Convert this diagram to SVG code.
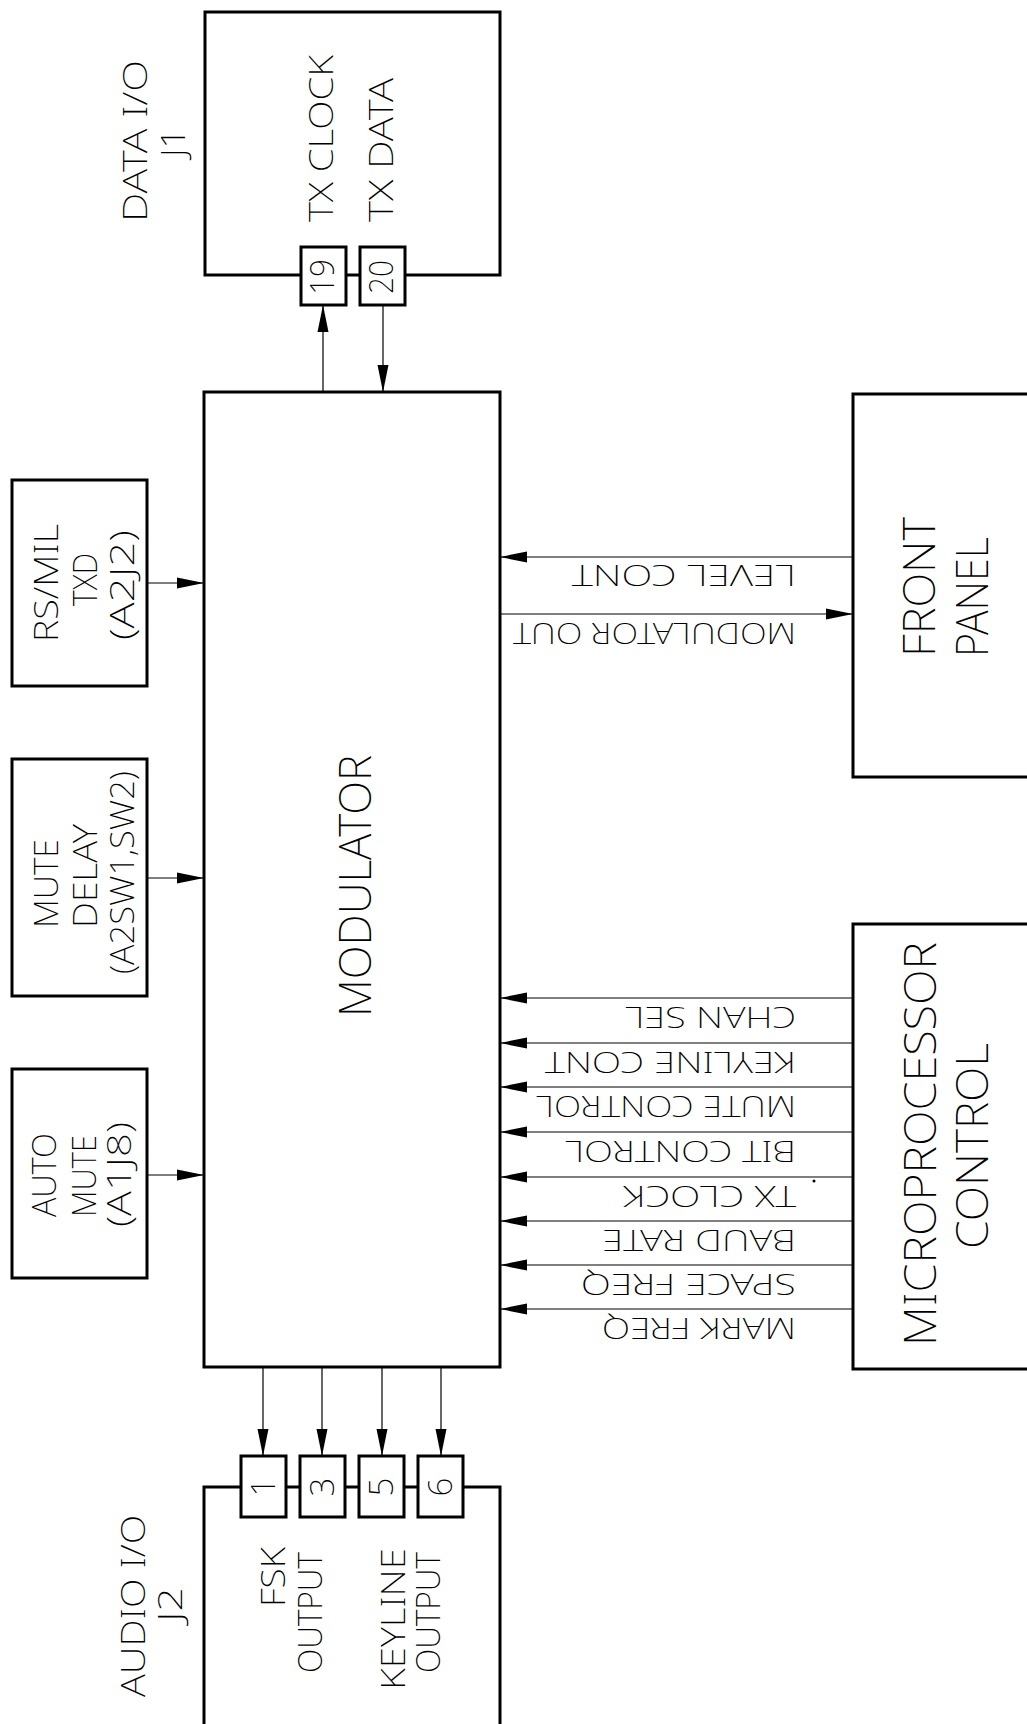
<svg xmlns="http://www.w3.org/2000/svg" width="1027" height="1724" viewBox="0 0 1027 1724">
<defs>
<marker id="ah" markerUnits="userSpaceOnUse" markerWidth="27" markerHeight="12" refX="27" refY="6" orient="auto">
<path d="M0,0.5 L27,6 L0,11.5 z" fill="#000"/>
</marker>
<style>
.box{fill:#fff;stroke:#000;stroke-width:3}
.pin{fill:#fff;stroke:#000;stroke-width:3}
.wire{fill:none;stroke:#000;stroke-width:1.2;marker-end:url(#ah)}
text{font-family:"Noto Sans","Liberation Sans",Arial,sans-serif;font-weight:200;fill:#000}
.s{font-size:33px}
.l{font-size:44px}
.g{font-size:29px}
</style>
</defs>
<rect width="1027" height="1724" fill="#fff"/>

<g id="connectors">
<line class="wire" x1="323" y1="392" x2="323" y2="305"/>
<line class="wire" x1="383" y1="305" x2="383" y2="392"/>
<line class="wire" x1="147" y1="583" x2="204" y2="583"/>
<line class="wire" x1="147" y1="878" x2="204" y2="878"/>
<line class="wire" x1="147" y1="1175" x2="204" y2="1175"/>
<line class="wire" x1="263" y1="1367" x2="263" y2="1456"/>
<line class="wire" x1="322" y1="1367" x2="322" y2="1456"/>
<line class="wire" x1="382" y1="1367" x2="382" y2="1456"/>
<line class="wire" x1="441" y1="1367" x2="441" y2="1456"/>
<line class="wire" x1="853" y1="557" x2="500" y2="557"/>
<line class="wire" x1="500" y1="614" x2="853" y2="614"/>
<line class="wire" x1="853" y1="998" x2="500" y2="998"/>
<line class="wire" x1="853" y1="1043" x2="500" y2="1043"/>
<line class="wire" x1="853" y1="1087" x2="500" y2="1087"/>
<line class="wire" x1="853" y1="1132" x2="500" y2="1132"/>
<line class="wire" x1="853" y1="1177" x2="500" y2="1177"/>
<line class="wire" x1="853" y1="1221" x2="500" y2="1221"/>
<line class="wire" x1="853" y1="1265" x2="500" y2="1265"/>
<line class="wire" x1="853" y1="1309" x2="500" y2="1309"/>
<g class="g">
<text x="796" y="565" transform="rotate(180 796 565)" textLength="224" lengthAdjust="spacingAndGlyphs">LEVEL CONT</text>
<text x="796" y="623" transform="rotate(180 796 623)" textLength="283" lengthAdjust="spacingAndGlyphs">MODULATOR OUT</text>
<text x="796" y="1007" transform="rotate(180 796 1007)" textLength="171" lengthAdjust="spacingAndGlyphs">CHAN SEL</text>
<text x="796" y="1052" transform="rotate(180 796 1052)" textLength="251" lengthAdjust="spacingAndGlyphs">KEYLINE CONT</text>
<text x="796" y="1096" transform="rotate(180 796 1096)" textLength="260" lengthAdjust="spacingAndGlyphs">MUTE CONTROL</text>
<text x="796" y="1141" transform="rotate(180 796 1141)" textLength="231" lengthAdjust="spacingAndGlyphs">BIT CONTROL</text>
<text x="796" y="1186" transform="rotate(180 796 1186)" textLength="173" lengthAdjust="spacingAndGlyphs">TX CLOCK</text>
<text x="796" y="1230" transform="rotate(180 796 1230)" textLength="194" lengthAdjust="spacingAndGlyphs">BAUD RATE</text>
<text x="796" y="1274" transform="rotate(180 796 1274)" textLength="215" lengthAdjust="spacingAndGlyphs">SPACE FREQ</text>
<text x="796" y="1318" transform="rotate(180 796 1318)" textLength="194" lengthAdjust="spacingAndGlyphs">MARK FREQ</text>
</g>
<circle cx="814" cy="1181" r="1.5" fill="#000"/>
</g>

<g id="data-io-j1">
<rect class="box" x="205" y="12" width="295" height="263"/>
<text class="s" x="147" y="222" transform="rotate(-90 147 222)" textLength="162" lengthAdjust="spacingAndGlyphs">DATA I/O</text>
<text class="s" x="185" y="157" transform="rotate(-90 185 157)" textLength="29" lengthAdjust="spacingAndGlyphs">J1</text>
<text class="s" x="333" y="222" transform="rotate(-90 333 222)" textLength="167" lengthAdjust="spacingAndGlyphs">TX CLOCK</text>
<text class="s" x="393" y="222" transform="rotate(-90 393 222)" textLength="144" lengthAdjust="spacingAndGlyphs">TX DATA</text>
<rect class="pin" x="301" y="247" width="45" height="58"/>
<rect class="pin" x="360" y="247" width="45" height="58"/>
<text class="s" x="334" y="295" transform="rotate(-90 334 295)" textLength="36" lengthAdjust="spacingAndGlyphs">19</text>
<text class="s" x="393" y="294" transform="rotate(-90 393 294)" textLength="34" lengthAdjust="spacingAndGlyphs">20</text>
</g>

<g id="modulator">
<rect class="box" x="204" y="392" width="296" height="975"/>
<text class="l" x="371" y="1017" transform="rotate(-90 371 1017)" textLength="262" lengthAdjust="spacingAndGlyphs">MODULATOR</text>
</g>

<g id="rs-mil-txd">
<rect class="box" x="12" y="480" width="135" height="206"/>
<text class="s" x="58" y="642" transform="rotate(-90 58 642)" textLength="118" lengthAdjust="spacingAndGlyphs">RS/MIL</text>
<text class="s" x="97" y="606" transform="rotate(-90 97 606)" textLength="53" lengthAdjust="spacingAndGlyphs">TXD</text>
<text class="s" x="134" y="640" transform="rotate(-90 134 640)" textLength="110" lengthAdjust="spacingAndGlyphs">(A2J2)</text>
</g>

<g id="mute-delay">
<rect class="box" x="12" y="759" width="135" height="237"/>
<text class="s" x="58" y="928" transform="rotate(-90 58 928)" textLength="89" lengthAdjust="spacingAndGlyphs">MUTE</text>
<text class="s" x="97" y="928" transform="rotate(-90 97 928)" textLength="104" lengthAdjust="spacingAndGlyphs">DELAY</text>
<text class="s" x="134" y="974" transform="rotate(-90 134 974)" textLength="203" lengthAdjust="spacingAndGlyphs">(A2SW1,SW2)</text>
</g>

<g id="auto-mute">
<rect class="box" x="12" y="1069" width="135" height="209"/>
<text class="s" x="56" y="1217" transform="rotate(-90 56 1217)" textLength="84" lengthAdjust="spacingAndGlyphs">AUTO</text>
<text class="s" x="96" y="1217" transform="rotate(-90 96 1217)" textLength="82" lengthAdjust="spacingAndGlyphs">MUTE</text>
<text class="s" x="131" y="1227" transform="rotate(-90 131 1227)" textLength="105" lengthAdjust="spacingAndGlyphs">(A1J8)</text>
</g>

<g id="audio-io-j2">
<rect class="box" x="204" y="1487" width="296" height="300"/>
<text class="s" x="145" y="1697" transform="rotate(-90 145 1697)" textLength="182" lengthAdjust="spacingAndGlyphs">AUDIO I/O</text>
<text class="s" x="182" y="1622" transform="rotate(-90 182 1622)" textLength="35" lengthAdjust="spacingAndGlyphs">J2</text>
<text class="s" x="285" y="1607" transform="rotate(-90 285 1607)" textLength="60" lengthAdjust="spacingAndGlyphs">FSK</text>
<text class="s" x="322" y="1673" transform="rotate(-90 322 1673)" textLength="121" lengthAdjust="spacingAndGlyphs">OUTPUT</text>
<text class="s" x="405" y="1690" transform="rotate(-90 405 1690)" textLength="142" lengthAdjust="spacingAndGlyphs">KEYLINE</text>
<text class="s" x="440" y="1673" transform="rotate(-90 440 1673)" textLength="121" lengthAdjust="spacingAndGlyphs">OUTPUT</text>
<rect class="pin" x="241" y="1456" width="45" height="61"/>
<rect class="pin" x="300" y="1456" width="45" height="61"/>
<rect class="pin" x="359" y="1456" width="45" height="61"/>
<rect class="pin" x="418" y="1456" width="45" height="61"/>
<text class="s" x="275" y="1487" transform="rotate(-90 275 1487)" text-anchor="middle">1</text>
<text class="s" x="334" y="1487" transform="rotate(-90 334 1487)" text-anchor="middle">3</text>
<text class="s" x="393" y="1487" transform="rotate(-90 393 1487)" text-anchor="middle">5</text>
<text class="s" x="452" y="1487" transform="rotate(-90 452 1487)" text-anchor="middle">6</text>
</g>

<g id="front-panel">
<rect class="box" x="853" y="394" width="200" height="383"/>
<text class="l" x="935" y="657" transform="rotate(-90 935 657)" textLength="140" lengthAdjust="spacingAndGlyphs">FRONT</text>
<text class="l" x="988" y="657" transform="rotate(-90 988 657)" textLength="120" lengthAdjust="spacingAndGlyphs">PANEL</text>
</g>

<g id="microprocessor-control">
<rect class="box" x="853" y="924" width="200" height="445"/>
<text class="l" x="936" y="1346" transform="rotate(-90 936 1346)" textLength="404" lengthAdjust="spacingAndGlyphs">MICROPROCESSOR</text>
<text class="l" x="988" y="1249" transform="rotate(-90 988 1249)" textLength="206" lengthAdjust="spacingAndGlyphs">CONTROL</text>
</g>
</svg>
